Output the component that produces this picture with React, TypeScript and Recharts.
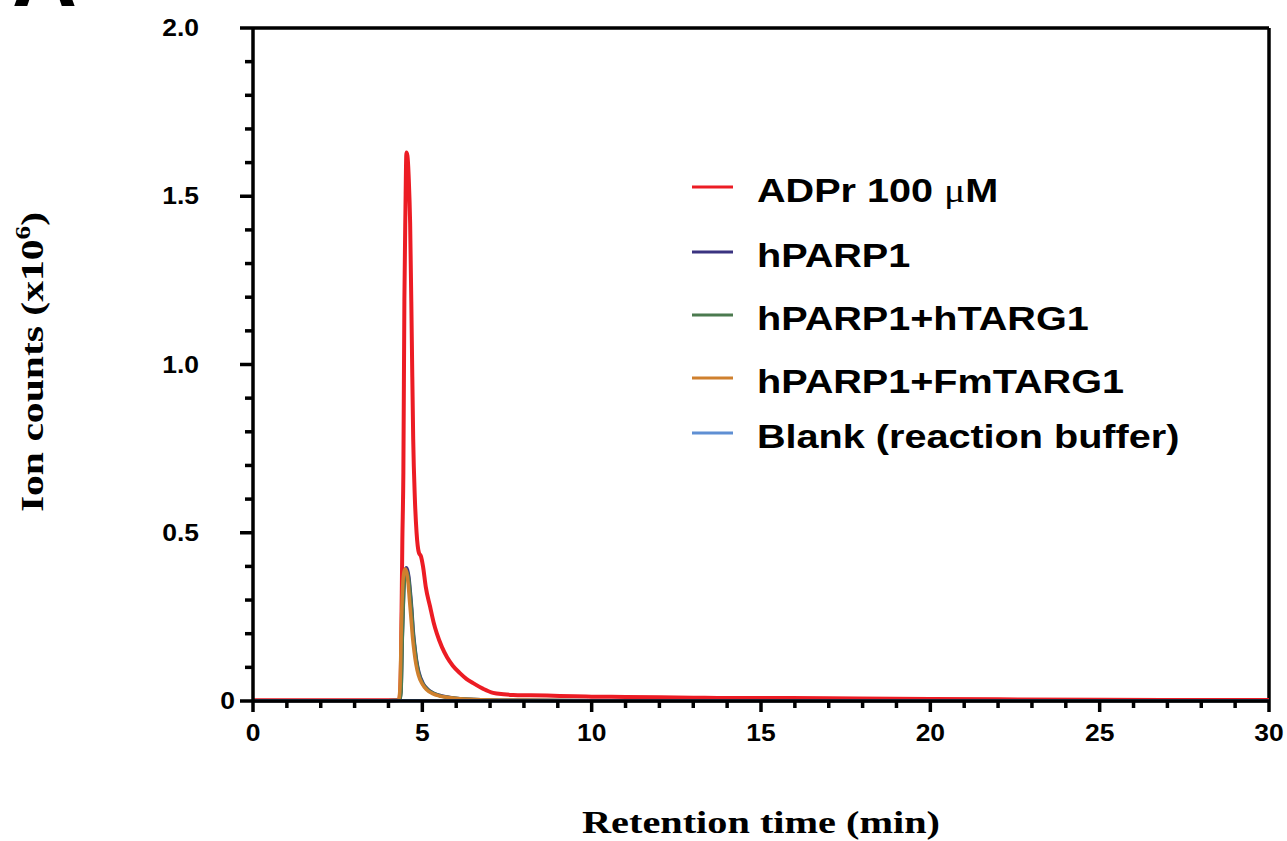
import React from "react";
import { LineChart, Line, XAxis, YAxis, ReferenceLine, Legend, Label } from "recharts";

// Retention time (min) and ion counts (x10^6)
const adprTime = [0, 2, 4, 4.3, 4.33, 4.37, 4.41, 4.44, 4.47, 4.5, 4.53, 4.56, 4.6, 4.64, 4.69, 4.73, 4.78, 4.83, 4.9, 4.96, 5.02, 5.1, 5.23, 5.33, 5.43, 5.58, 5.73, 5.9, 6.11, 6.3, 6.5, 6.8, 7.09, 7.4, 7.68, 8.2, 8.68, 9.5, 10, 11, 12, 13, 14, 15, 17, 20, 22, 25, 28, 30];
const adprCounts = [0.002, 0.002, 0.002, 0.003, 0.01, 0.12, 0.48, 0.68, 1.19, 1.45, 1.63, 1.62, 1.55, 1.42, 1.07, 0.78, 0.6, 0.5, 0.44, 0.43, 0.4, 0.34, 0.28, 0.235, 0.2, 0.16, 0.13, 0.105, 0.083, 0.066, 0.053, 0.036, 0.024, 0.02, 0.018, 0.017, 0.016, 0.014, 0.013, 0.012, 0.011, 0.01, 0.009, 0.009, 0.008, 0.006, 0.005, 0.004, 0.003, 0.003];

const parpTime = [0, 2, 4, 4.33, 4.37, 4.41, 4.45, 4.49, 4.53, 4.56, 4.6, 4.64, 4.69, 4.73, 4.78, 4.83, 4.9, 5.02, 5.15, 5.32, 5.5, 5.73, 6.2, 7, 8, 10, 15, 20, 25, 30];
const parpCounts = [0.001, 0.001, 0.001, 0.002, 0.03, 0.2, 0.33, 0.385, 0.396, 0.39, 0.37, 0.33, 0.27, 0.21, 0.16, 0.12, 0.085, 0.053, 0.036, 0.024, 0.017, 0.012, 0.006, 0.003, 0.002, 0.001, 0.001, 0.001, 0.001, 0.001];
const htargCounts = [0.001, 0.001, 0.001, 0.002, 0.025, 0.19, 0.32, 0.375, 0.385, 0.38, 0.36, 0.32, 0.26, 0.2, 0.155, 0.115, 0.08, 0.05, 0.034, 0.023, 0.016, 0.011, 0.006, 0.003, 0.002, 0.001, 0.001, 0.001, 0.001, 0.001];

const fmTime = [0, 2, 4, 4.3, 4.34, 4.38, 4.42, 4.46, 4.5, 4.54, 4.58, 4.62, 4.67, 4.71, 4.76, 4.81, 4.88, 5.0, 5.12, 5.3, 5.5, 5.73, 6.2, 7, 8, 10, 15, 20, 25, 30];
const fmCounts = [0.001, 0.001, 0.001, 0.002, 0.04, 0.22, 0.34, 0.385, 0.392, 0.38, 0.35, 0.3, 0.24, 0.19, 0.145, 0.11, 0.078, 0.05, 0.034, 0.022, 0.015, 0.011, 0.006, 0.003, 0.002, 0.001, 0.001, 0.001, 0.001, 0.001];

const blankTime = [0, 5, 10, 15, 20, 25, 30];
const blankCounts = [0.001, 0.001, 0.001, 0.001, 0.001, 0.001, 0.001];

const seriesNames = ["ADPr 100 μM", "hPARP1", "hPARP1+hTARG1", "hPARP1+FmTARG1", "Blank (reaction buffer)"];
const seriesColors = ["#ec1c24", "#3a3380", "#4b7a4f", "#cf802e", "#5f8fd3"];

const xMajorTicks = [0, 5, 10, 15, 20, 25, 30];
const yMajorTicks = [0, 0.5, 1.0, 1.5, 2.0];

const toPoints = (ts: number[], vs: number[]) => ts.map((t, i) => ({ t, v: vs[i] }));
const series = [
    toPoints(adprTime, adprCounts),
    toPoints(parpTime, parpCounts),
    toPoints(parpTime, htargCounts),
    toPoints(fmTime, fmCounts),
    toPoints(blankTime, blankCounts),
];

// minor ticks every 1 min / 0.1 units
const xTicks = Array.from({ length: 31 }, (_, i) => i);
const yTicks = Array.from({ length: 21 }, (_, i) => i / 10);

const sans = "'Liberation Sans', Arial, sans-serif";
const serif = "'Liberation Serif', 'Times New Roman', serif";

const XTick = ({ x, y, payload }: any) => {
    const major = xMajorTicks.includes(payload.value);
    return (
        <g>
            <line x1={x} x2={x} y1={y} y2={y + (major ? 11 : 7)} stroke="#000" strokeWidth={3.5} />
            {major && (
                <text transform={`translate(${x},${y + 40}) scale(1.15,1)`} textAnchor="middle" fontFamily={sans} fontWeight="bold" fontSize={23} fill="#000">
                    {payload.value}
                </text>
            )}
        </g>
    );
};

const YTick = ({ x, y, payload }: any) => {
    const v = payload.value;
    const major = yMajorTicks.some((m) => Math.abs(m - v) < 1e-6);
    const label = v === 0 ? "0" : v.toFixed(1);
    const lx = v === 0 ? x - 18 : x - 54;
    return (
        <g>
            <line x1={x - (major ? 13 : 8)} x2={x} y1={y} y2={y} stroke="#000" strokeWidth={3.5} />
            {major && (
                <text transform={`translate(${lx},${y + 8}) scale(1.15,1)`} textAnchor="end" fontFamily={sans} fontWeight="bold" fontSize={23} fill="#000">
                    {label}
                </text>
            )}
        </g>
    );
};

const rowY = [27, 92, 155, 218, 273];

// legend drawn in series order, not the library's sorted order
const renderLegend = () => (
    <svg width={520} height={300}>
        {seriesNames.map((name, i) => (
            <g key={name}>
                <line x1={12} x2={53} y1={rowY[i]} y2={rowY[i]} stroke={seriesColors[i]} strokeWidth={3} />
                <text transform={`translate(77,${rowY[i] + 15}) scale(1.2,1)`} fontFamily={sans} fontWeight="bold" fontSize={33} fill="#000">
                    {name.includes("μ") ? (
                        <>
                            {name.split("μ")[0]}
                            <tspan fontFamily={serif} fontWeight="normal">μ</tspan>
                            {name.split("μ")[1]}
                        </>
                    ) : (
                        name
                    )}
                </text>
            </g>
        ))}
    </svg>
);

export default function App() {
    return (
        <div style={{ position: "absolute", left: 0, top: 0, width: 1287, height: 841, background: "#fff" }}>
            <svg style={{ position: "absolute", left: 0, top: 0 }} width={120} height={30}>
                <text x={12} y={6} fontFamily={sans} fontWeight="bold" fontSize={90} fill="#000">A</text>
            </svg>
            <LineChart width={1287} height={841} margin={{ top: 28, right: 18, bottom: 80, left: 193 }}>
                <XAxis
                    dataKey="t"
                    type="number"
                    domain={[0, 30]}
                    ticks={xTicks}
                    interval={0}
                    tick={<XTick />}
                    tickLine={false}
                    tickSize={0}
                    tickMargin={0}
                    axisLine={{ stroke: "#000", strokeWidth: 3.5 }}
                    height={60}
                    allowDuplicatedCategory={false}
                >
                    <Label
                        content={() => (
                            <text transform="translate(761,833) scale(1.3,1)" textAnchor="middle" fontFamily={serif} fontWeight="bold" fontSize={31} fill="#000">
                                Retention time (min)
                            </text>
                        )}
                    />
                </XAxis>
                <YAxis
                    dataKey="v"
                    type="number"
                    domain={[0, 2]}
                    ticks={yTicks}
                    interval={0}
                    tick={<YTick />}
                    tickLine={false}
                    tickSize={0}
                    tickMargin={0}
                    axisLine={{ stroke: "#000", strokeWidth: 3.5 }}
                    width={60}
                >
                    <Label
                        content={() => (
                            <text transform="translate(43,362) rotate(-90) scale(1.3,1)" textAnchor="middle" fontFamily={serif} fontWeight="bold" fontSize={32} fill="#000">
                                Ion counts (x10
                                <tspan fontSize={21} dy={-13}>6</tspan>
                                <tspan dy={13}>)</tspan>
                            </text>
                        )}
                    />
                </YAxis>
                <ReferenceLine y={2} stroke="#000" strokeWidth={3.5} />
                <ReferenceLine x={30} stroke="#000" strokeWidth={3.5} />
                {series.map((d, i) => (
                    <Line
                        key={seriesNames[i]}
                        data={d}
                        dataKey="v"
                        name={seriesNames[i]}
                        type="monotone"
                        stroke={seriesColors[i]}
                        strokeWidth={i === 0 ? 4 : 3.5}
                        dot={false}
                        activeDot={false}
                        isAnimationActive={false}
                    />
                ))}
                <Legend
                    layout="vertical"
                    align="center"
                    verticalAlign="middle"
                    content={renderLegend}
                    wrapperStyle={{ left: 680, top: 160, width: 520, height: 300 }}
                />
            </LineChart>
        </div>
    );
}
